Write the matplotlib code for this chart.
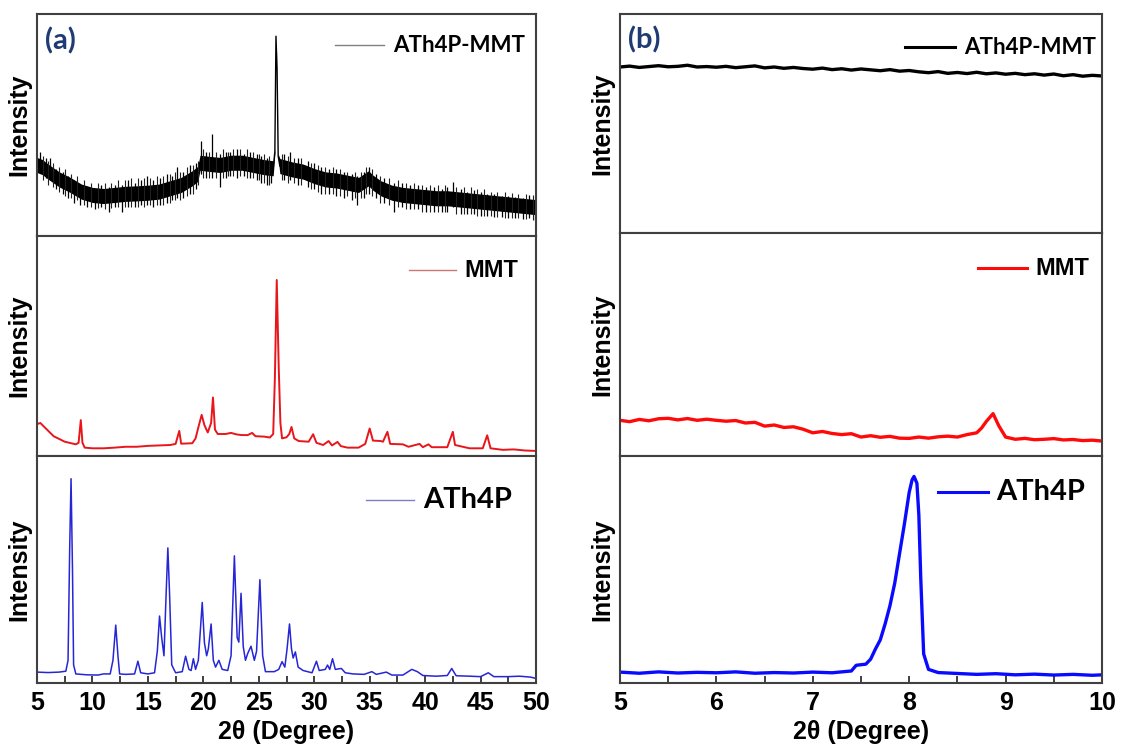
import numpy as np
import matplotlib
matplotlib.use("Agg")
import matplotlib.pyplot as plt
from matplotlib.ticker import MultipleLocator

plt.rcParams["font.family"] = ["Liberation Sans", "DejaVu Sans"]
plt.rcParams["font.weight"] = "bold"

# intensities are given in % of the height of each strip

# (a) ATh4P-MMT: noisy band (trend +/- half width) with spikes
a_hyb_x = [5.0, 5.5, 6.0, 7.0, 8.0, 9.0, 10.0, 11.0, 12.0, 13.0, 14.0, 15.0, 16.0, 17.0,
           18.0, 19.0, 19.5, 19.7, 20.5, 21.5, 22.5, 23.5, 24.5, 25.5, 26.3, 26.45, 26.55,
           26.65, 26.75, 26.9, 28.0, 29.0, 30.0, 31.0, 32.0, 33.0, 34.0, 34.9, 35.3, 36.0,
           37.0, 38.0, 39.0, 40.0, 41.0, 42.0, 43.0, 44.0, 45.0, 46.0, 47.0, 48.0, 49.0, 50.0]
a_hyb_y = [32, 31, 29, 25.5, 23, 20, 18.5, 18, 18.5, 19, 19.2, 19.5, 20, 21.5,
           23, 26, 28, 33, 32.5, 32, 33, 33, 32, 31, 30.5, 38, 90,
           75, 36, 31.5, 30, 29, 27, 25.5, 25, 24, 23, 26, 24, 21.5,
           19.5, 18.5, 18, 17.5, 17, 17, 16.5, 16, 15.5, 15, 14.5, 14, 13.5, 13]
a_hyb_hw = [3.4, 3.4, 3.4, 3.4, 3.4, 3.4, 3.4, 3.4, 3.4, 3.4, 3.4, 3.4, 3.4, 3.4,
            3.4, 3.4, 3.4, 3.4, 3.4, 3.4, 3.4, 3.4, 3.4, 3.4, 3.4, 1, 0.5,
            0.5, 1, 3.4, 3.4, 3.4, 3.4, 3.4, 3.4, 3.4, 3.4, 3.4, 3.4, 3.4,
            3.4, 3.4, 3.4, 3.4, 3.4, 3.4, 3.4, 3.4, 3.4, 3.4, 3.4, 3.4, 3.4, 3.4]
# tall spikes
a_spk_x = [5.27, 5.8, 6.17, 6.7, 7.3, 7.8, 8.3, 8.9, 9.5, 10.24, 10.8, 11.45, 12.0, 12.65,
           13.2, 13.8, 14.4, 14.9, 15.5, 16.1, 16.7, 17.2, 17.6, 18.2, 18.8, 19.3, 19.79,
           20.2, 20.81, 21.54, 22.0, 22.44, 23.0, 23.64, 24.2, 24.8, 25.2, 25.75, 26.1,
           27.3, 27.86, 28.5, 29.4, 29.97, 30.6, 31.3, 32.0, 32.7, 33.4, 33.9, 34.5, 34.94,
           35.6, 36.3, 37.2, 37.9, 38.6, 39.4, 40.1, 40.8, 41.5, 42.0, 42.47, 43.2, 43.8,
           44.4, 45.0, 45.6, 46.2, 46.9, 47.5, 48.1, 48.8, 49.4, 49.9]
a_spk_lo = [30, 26, 27, 21, 19, 17, 15, 14, 13, 12, 13, 11, 13, 11,
            13, 13, 14, 14, 13, 14, 15, 16, 17, 17, 19, 21, 28,
            26, 26, 22, 26, 27, 26, 27, 26, 25, 24, 23, 24,
            25, 25, 23, 22, 21, 19, 19, 18, 17, 16, 14, 17, 19,
            17, 15, 11, 13, 12, 12, 11, 11, 11, 11, 13, 10, 10,
            10, 9, 9, 8.7, 8.5, 8, 8, 7.5, 8, 7]
a_spk_hi = [38, 35, 35, 30, 29, 27, 25, 22, 22, 21, 23, 22, 23, 23,
            25, 24, 25, 27, 25, 26, 28, 27, 31, 29, 32, 33, 43,
            38, 46, 37, 38, 38, 39, 37, 38, 37, 36, 35, 34,
            37, 38, 35, 34, 33, 31, 30, 30, 29, 28, 27, 29, 31,
            28, 26, 24, 24, 23, 23, 22, 22, 21, 22, 24.5, 21, 20,
            20.7, 20, 19, 19, 18, 18, 17.5, 17, 18.5, 16]
# short spikes in between
a_sp2_x = [5.55, 5.95, 6.45, 7.0, 7.55, 8.05, 8.6, 9.2, 9.85, 10.5, 11.15, 11.7, 12.3,
           12.95, 13.5, 14.1, 14.65, 15.2, 15.8, 16.4, 16.95, 17.4, 17.9, 18.5, 19.05,
           19.55, 20.0, 20.5, 21.15, 21.8, 22.2, 22.7, 23.3, 23.9, 24.5, 25.0, 25.5, 25.95,
           27.05, 27.6, 28.2, 28.8, 29.7, 30.3, 30.95, 31.65, 32.35, 33.0, 33.65, 34.2,
           34.7, 35.25, 35.95, 36.7, 37.55, 38.25, 39.0, 39.75, 40.45, 41.15, 41.75, 42.8,
           43.5, 44.1, 44.7, 45.3, 45.9, 46.5, 47.2, 47.8, 48.4, 49.1, 49.7]
a_sp2_lo = [25, 23, 22, 20, 18, 17, 16, 14, 13, 12.5, 12, 12.5, 13,
            13, 13, 13, 13, 14, 14, 14, 15, 16, 16, 18, 19,
            23, 26, 26, 26, 26, 27, 27, 27, 26, 26, 25, 24, 23,
            25, 24, 24, 23, 21, 20, 19, 19, 18, 18, 17, 17,
            19, 18, 15, 14, 13, 12, 12, 11, 11, 11, 11, 10,
            10, 10, 9, 9, 9, 8.5, 8, 8, 8, 7.5, 7]
a_sp2_hi = [36, 34, 33, 31, 30, 28, 27, 25, 24, 24, 24, 24, 25,
            25, 26, 26, 26, 26, 27, 27, 28, 29, 29, 31, 32,
            34, 39, 38, 38, 39, 38, 39, 39, 39, 38, 37, 37, 36,
            37, 36, 35, 35, 33, 32, 31, 31, 30, 29, 29, 29,
            31, 30, 27, 26, 25, 24, 24, 23, 23, 23, 23, 22,
            22, 22, 21, 21, 20, 20, 20, 19.5, 19, 19, 18.5]

# (a) MMT
a_mmt_x = [5.0, 5.3, 5.8, 6.5, 7.5, 8.5, 8.75, 8.95, 9.1, 9.3, 10, 11, 12, 13, 14, 15, 16,
           17, 17.5, 17.83, 18.0, 19.0, 19.3, 19.6, 19.85, 20.1, 20.4, 20.7, 20.87, 21.05,
           21.3, 22.0, 22.5, 23.0, 23.5, 24.0, 24.4, 24.7, 25.5, 26.0, 26.3, 26.45, 26.62,
           26.8, 26.95, 27.1, 27.5, 27.75, 27.95, 28.2, 28.6, 29.5, 29.9, 30.2, 30.8, 31.3,
           31.6, 32.1, 32.4, 33, 34, 34.6, 35.0, 35.3, 36.0, 36.2, 36.6, 36.85, 38.0, 38.5,
           39.5, 39.8, 40.3, 40.6, 42.0, 42.5, 42.7, 44, 45.2, 45.6, 45.9, 47, 48, 49, 50]
a_mmt_y = [14.5, 15, 12.5, 9, 6.5, 5.3, 6, 16.3, 6, 3.8, 3.5, 3.5, 3.8, 4.2, 4.2, 4.6, 4.8,
           5.0, 5.5, 11.4, 5.6, 5.8, 8, 14, 18.7, 14, 10.7, 15, 26.6, 12,
           10, 10, 10.5, 9.8, 9.5, 9.5, 10.5, 9, 8.8, 8.4, 10, 35, 80,
           40, 15, 8, 8.5, 10, 13.2, 8, 6.8, 6.5, 9.9, 6.0, 5.0, 6.8,
           4.8, 6.4, 4.5, 3.8, 3.8, 5.5, 12.5, 7, 6.8, 6.5, 11, 5.5, 5.3, 4.2,
           5.5, 4.0, 5.3, 4.0, 4.0, 11, 5.0, 3.5, 3.5, 9.4, 3.5, 2.8, 3.0, 2.5, 2.3]

# (a) ATh4P
a_ath_x = [5.0, 6.0, 7.0, 7.6, 7.8, 7.95, 8.07, 8.2, 8.3, 8.5, 9.5, 10.5, 11.0, 11.6, 11.85,
           12.1, 12.3, 12.45, 13.0, 13.8, 14.1, 14.35, 15.0, 15.6, 15.85, 16.05, 16.25,
           16.45, 16.65, 16.8, 16.95, 17.15, 17.5, 18.1, 18.4, 18.7, 18.9, 19.1, 19.3,
           19.55, 19.9, 20.1, 20.3, 20.45, 20.7, 20.9, 21.1, 21.4, 21.7, 22.2, 22.5, 22.8,
           23.05, 23.2, 23.4, 23.6, 23.8, 24.0, 24.3, 24.6, 24.8, 25.1, 25.35, 25.6, 26.4,
           26.8, 27.1, 27.35, 27.55, 27.77, 27.95, 28.1, 28.3, 28.55, 29.0, 29.8, 30.2,
           30.45, 31.0, 31.2, 31.4, 31.65, 31.9, 32.45, 32.8, 33.5, 34.5, 35.2, 35.6, 36.5,
           37.0, 38.0, 38.8, 39.3, 39.8, 41.0, 42.0, 42.4, 42.8, 44.0, 45.0, 45.7, 46.2,
           47.5, 48.5, 49.5, 50.0]
a_ath_y = [4.8, 4.6, 4.8, 5.2, 10, 60, 90, 50, 8, 4.0, 3.6, 3.5, 4.0, 4.0, 10,
           25.5, 12, 4, 3.8, 4.0, 9.6, 4.5, 4.0, 4.5, 14, 29.5, 19.7,
           12, 40, 59.5, 40, 8, 4.5, 5, 11.8, 6, 5.5, 10.7, 6,
           10, 35.5, 17.7, 12, 15, 26, 10, 7, 10, 6, 5.5, 12, 56,
           20, 18, 39.5, 16, 10, 13, 16.2, 10, 14, 45.5, 12, 5, 5,
           6, 9.4, 7, 15, 26, 15, 11, 13.7, 7, 5.5, 4.5, 9.6,
           5.5, 6, 7.9, 6, 10.7, 6, 6.4, 4.5, 4.0, 3.8, 5.0, 3.8, 4.8,
           3.5, 3.5, 6.0, 5.0, 3.3, 3.0, 3.3, 6.4, 3.2, 3.0, 2.8, 4.5, 2.8,
           2.8, 3.0, 2.6, 2.0]

# (b) ATh4P-MMT, 0.1 deg steps
b_hyb_x = np.round(np.arange(5.0, 10.01, 0.1), 2)
b_hyb_y = [75.8, 76.2, 75.6, 76.0, 76.4, 75.9, 76.1, 76.6, 75.8, 76.0,
           75.7, 76.1, 75.5, 75.9, 76.3, 75.4, 75.8, 75.2, 75.6, 75.1,
           74.8, 75.3, 74.6, 75.0, 74.4, 74.9, 74.5, 74.1, 74.6, 73.9,
           74.2, 73.6, 73.2, 73.7, 72.9, 73.3, 72.8, 73.4, 72.7, 73.1,
           72.5, 72.9, 72.3, 72.7, 72.1, 72.6, 71.8, 72.3, 71.6, 72.0, 71.7]

# (b) MMT
b_mmt_x = [5.0, 5.1, 5.2, 5.3, 5.4, 5.5, 5.6, 5.7, 5.8, 5.9, 6.0, 6.1, 6.2, 6.3, 6.4, 6.5,
           6.6, 6.7, 6.8, 6.9, 7.0, 7.1, 7.2, 7.3, 7.4, 7.5, 7.6, 7.7, 7.8, 7.9, 8.0, 8.1,
           8.2, 8.3, 8.4, 8.5, 8.6, 8.7, 8.75, 8.8, 8.87, 8.93, 9.0, 9.1, 9.2, 9.3, 9.4,
           9.5, 9.6, 9.7, 9.8, 9.9, 10.0]
b_mmt_y = [16.0, 15.4, 16.4, 15.8, 16.7, 16.9, 16.2, 16.8, 16.0, 16.5,
           16.0, 15.6, 15.9, 14.8, 15.1, 13.4, 13.9, 12.8, 13.1, 12.0,
           10.4, 11.0, 10.1, 9.6, 10.0, 8.5, 9.1, 8.4, 8.8, 8.0,
           7.9, 8.5, 8.0, 8.6, 8.9, 8.5, 9.6, 10.4,
           12.5, 15.5, 19.0, 13.5, 8.5,
           7.5, 7.9, 7.3, 7.5, 7.8, 7.2, 7.4, 6.9, 7.1, 6.7]

# (b) ATh4P
b_ath_x = [5.0, 5.2, 5.4, 5.6, 5.8, 6.0, 6.2, 6.4, 6.6, 6.8, 7.0, 7.2, 7.4, 7.45, 7.55,
           7.6, 7.65, 7.7, 7.75, 7.8, 7.85, 7.9, 7.95, 8.0, 8.03, 8.05, 8.08, 8.1, 8.12,
           8.15, 8.2, 8.3, 8.5, 8.7, 8.9, 9.1, 9.3, 9.5, 9.7, 9.9, 10.0]
b_ath_y = [4.8, 4.3, 4.9, 4.4, 4.7, 4.5, 4.9, 4.3, 4.6, 4.4, 4.8, 4.5, 5.3, 7.8, 8.3,
           10.5, 15, 19, 26, 34, 44, 57, 70, 84, 89.5, 91, 88, 74, 46,
           12.8, 6, 4.6, 4.2, 3.8, 4.1, 3.6, 3.9, 3.5, 3.8, 3.4, 3.6]

W, H = 1121, 756
fig = plt.figure(figsize=(W / 100, H / 100), dpi=100)


def strip(x0, x1, y0, y1, xlim):
    ax = fig.add_axes([x0 / W, 1 - y1 / H, (x1 - x0) / W, (y1 - y0) / H])
    ax.set_xlim(*xlim)
    ax.set_ylim(0, 100)
    ax.set_yticks([])
    for s in ax.spines.values():
        s.set_color("#404040")
        s.set_linewidth(1.5)
    ax.set_ylabel("Intensity", fontsize=18, fontweight="bold", labelpad=4)
    ax.tick_params(axis="x", bottom=False, labelbottom=False)
    return ax


def tag(ax, x0, x1, y, text, color, lw, size, family):
    ax.plot([x0, x1], [y, y], transform=ax.transAxes, color=color, lw=lw)
    ax.text(x1 + 0.018, y, text, transform=ax.transAxes, va="center", ha="left",
            fontsize=size, fontweight="bold", family=family)


def bottom_axis(ax, major, minor):
    ax.xaxis.set_major_locator(MultipleLocator(major))
    ax.xaxis.set_minor_locator(MultipleLocator(minor))
    ax.tick_params(axis="x", which="both", bottom=True, labelbottom=True,
                   direction="in", length=5, width=1.3, color="#303030",
                   labelsize=18, pad=6)
    for lab in ax.get_xticklabels():
        lab.set_fontweight("bold")
    ax.set_xlabel("2\u03b8 (Degree)", fontsize=18, fontweight="bold", labelpad=3)


calibri = ["Lato", "DejaVu Sans"]

# ---- panel (a)
a1 = strip(37, 536, 14, 236, (5, 50))
lo = np.array(a_hyb_y) - np.array(a_hyb_hw)
hi = np.array(a_hyb_y) + np.array(a_hyb_hw)
a1.fill_between(a_hyb_x, lo, hi, color="black", lw=0)
a1.plot(a_hyb_x, a_hyb_y, color="black", lw=1.0)
a1.vlines(a_spk_x, a_spk_lo, a_spk_hi, color="black", lw=0.9)
a1.vlines(a_sp2_x, a_sp2_lo, a_sp2_hi, color="#202020", lw=0.8)
tag(a1, 0.598, 0.695, 0.86, "ATh4P-MMT", "#808080", 1.0, 16, calibri)
a1.text(0.016, 0.88, "(a)", transform=a1.transAxes, color="#1f3b73",
        fontsize=21, fontweight="bold", family=calibri, va="center")

a2 = strip(37, 536, 236, 456, (5, 50))
a2.plot(a_mmt_x, a_mmt_y, color="#e8161b", lw=1.4)
tag(a2, 0.745, 0.839, 0.845, "MMT", "#c87878", 1.0, 17, ["Liberation Sans"])

a3 = strip(37, 536, 456, 683, (5, 50))
a3.plot(a_ath_x, a_ath_y, color="#2626d6", lw=1.1)
tag(a3, 0.659, 0.755, 0.806, "ATh4P", "#7c7cc8", 1.0, 21, calibri)
bottom_axis(a3, 5, 2.5)

# ---- panel (b)
b1 = strip(620, 1102, 14, 233, (5, 10))
b1.plot(b_hyb_x, b_hyb_y, color="black", lw=2.4)
tag(b1, 0.591, 0.695, 0.849, "ATh4P-MMT", "black", 2.2, 16, calibri)
b1.text(0.016, 0.88, "(b)", transform=b1.transAxes, color="#1f3b73",
        fontsize=21, fontweight="bold", family=calibri, va="center")

b2 = strip(620, 1102, 233, 456, (5, 10))
b2.plot(b_mmt_x, b_mmt_y, color="#ff0a0a", lw=2.4)
tag(b2, 0.743, 0.844, 0.843, "MMT", "#ff0a0a", 2.2, 17, ["Liberation Sans"])

b3 = strip(620, 1102, 456, 683, (5, 10))
b3.plot(b_ath_x, b_ath_y, color="#0a0aff", lw=2.4)
tag(b3, 0.66, 0.763, 0.841, "ATh4P", "#0a0aff", 2.2, 21, calibri)
bottom_axis(b3, 1, 0.5)

fig.savefig("out.png", dpi=100)
